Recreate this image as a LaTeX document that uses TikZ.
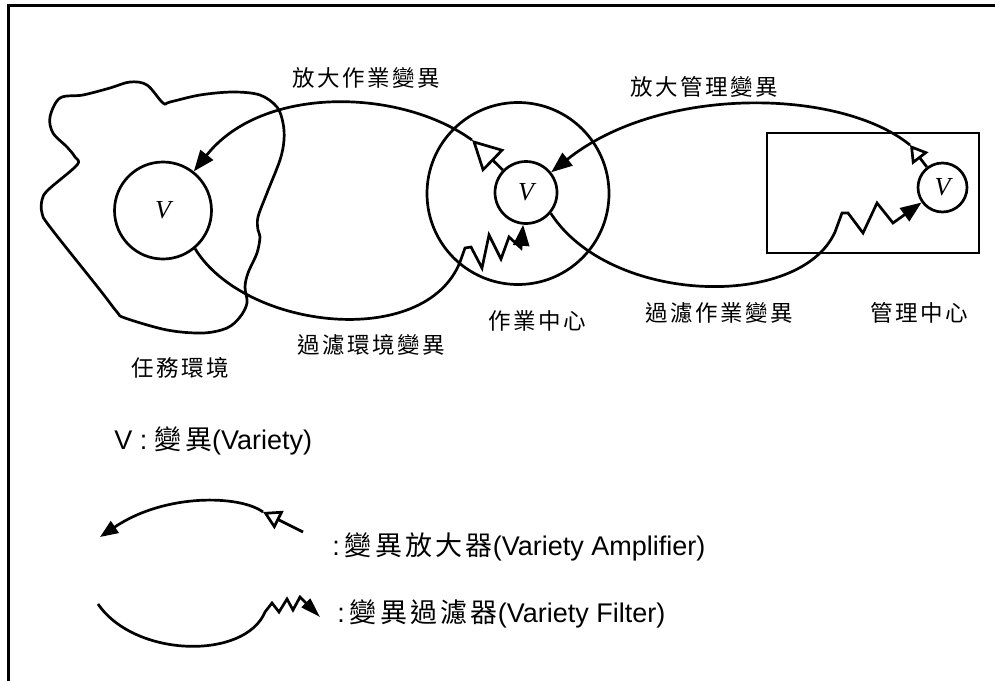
\documentclass[tikz,border=0pt]{standalone}
\usepackage{fontspec}
\setmainfont{Liberation Sans}
\newfontfamily\cjk[LetterSpace=11]{Noto Sans CJK TC}
\newfontfamily\cjkleg[LetterSpace=12]{Noto Sans CJK TC}
\newfontfamily\vfont{Liberation Serif}
\usetikzlibrary{arrows.meta}
\begin{document}
\begin{tikzpicture}[x=1pt,y=-1pt,line width=2.7pt,
  vcirc/.style={circle,draw,inner sep=0pt,font=\fontsize{26}{26}\selectfont\vfont\itshape},
  lab/.style={font=\fontsize{22.5}{22.5}\selectfont\cjk,inner sep=0pt},
  leg/.style={anchor=west,inner sep=0pt,font=\fontsize{27}{27}\selectfont},
  fil/.style={-{Triangle[length=21pt,width=16pt]}},
]
\useasboundingbox (0,0) rectangle (995,680);
% frame
\coordinate (f0) at (8.5,700);
\coordinate (f1) at (8.5,5.5);
\coordinate (f2) at (1005,5.5);
\draw[line width=3pt] (f0) -- (f1) -- (f2);

% task environment blob
\draw plot[smooth cycle,tension=0.55] coordinates {(60,98) (83,95) (110,88) (130,82) (147,85) (163,103) (170,102) (200,95) (233,92) (260,95) (277,107) (283,123) (284,140) (280,160) (267,193) (258,217) (258,230) (260,237) (257,253) (248,273) (245,287) (247,303) (240,317) (227,328) (203,333) (167,330) (125,318) (117,312) (100,290) (50,227) (42,213) (42,200) (48,190) (77,165) (75,157) (67,147) (53,133) (50,117)};

% nodes
\node[vcirc,minimum size=97pt] (vl) at (163,210.5) {V};
\node[circle,draw,minimum size=182pt,inner sep=0pt] (mc) at (518,193.5) {};
\node[vcirc,minimum size=62pt] (vm) at (526,192.5) {V};
\node[draw,minimum width=212pt,minimum height=120pt,inner sep=0pt] (rc) at (873,193) {};
\node[vcirc,minimum size=49pt] (vr) at (942.5,187.5) {V};

% labels
\node[lab] (t1) at (366,78) {放大作業變異};
\node[lab] (t2) at (704,87) {放大管理變異};
\node[lab] (t3) at (371,345) {過濾環境變異};
\node[lab] (t4) at (180,368) {任務環境};
\node[lab] (t5) at (537,321) {作業中心};
\node[lab] (t6) at (719,313) {過濾作業變異};
\node[lab] (t7) at (919,313) {管理中心};

% amplifier: operations -> environment
\coordinate (a1) at (472,140);
\draw[-{Triangle[open,length=30pt,width=31pt]}] (vm) -- (a1);
\draw[fil] (a1) .. controls (400,88) and (262,85) .. (vl);

% filter: environment -> operations
\draw[fil] (vl.-50) .. controls (245,330) and (425,350) .. (460,262) -- (465,248) -- (471,247) -- (482,268) -- (489,235) -- (501,259) -- (509,237) -- (521,248) -- (vm);

% amplifier: management -> operations
\coordinate (a2) at (910,145);
\draw[-{Triangle[open,length=17pt,width=20pt]}] (vr) -- (a2);
\draw[fil] (a2) .. controls (840,88) and (660,85) .. (vm);

% filter: operations -> management
\draw[fil] (vm.-40) .. controls (610,305) and (800,310) .. (835,232) -- (842,213) -- (848,213) -- (863,233) -- (877,203) -- (893,223) -- (vr);

% legend
\node[leg] (l1) at (113,441) {V : {\cjkleg 變異}(Variety)};
\coordinate (la0) at (303,532);
\coordinate (la1) at (263,512);
\coordinate (la2) at (100,537);
\draw[-{Triangle[open,length=18pt,width=20pt]}] (la0) -- (la1);
\draw[-{Triangle[length=18pt,width=14pt]}] (la1) .. controls (240,495) and (165,493) .. (la2);
\node[leg] (l2) at (331,547) {:\hspace{5pt}{\cjkleg 變異放大器}(Variety Amplifier)};

\coordinate (lf0) at (98,604);
\coordinate (lf1) at (320,617);
\draw[-{Triangle[length=20pt,width=12pt]}] (lf0) .. controls (135,658) and (245,660) .. (265,612) -- (272,603) -- (279,612) -- (287,599) -- (293,610) -- (300,597) -- (lf1);
\node[leg] (l3) at (336,614) {:\hspace{5pt}{\cjkleg 變異過濾器}(Variety Filter)};
\end{tikzpicture}
\end{document}
